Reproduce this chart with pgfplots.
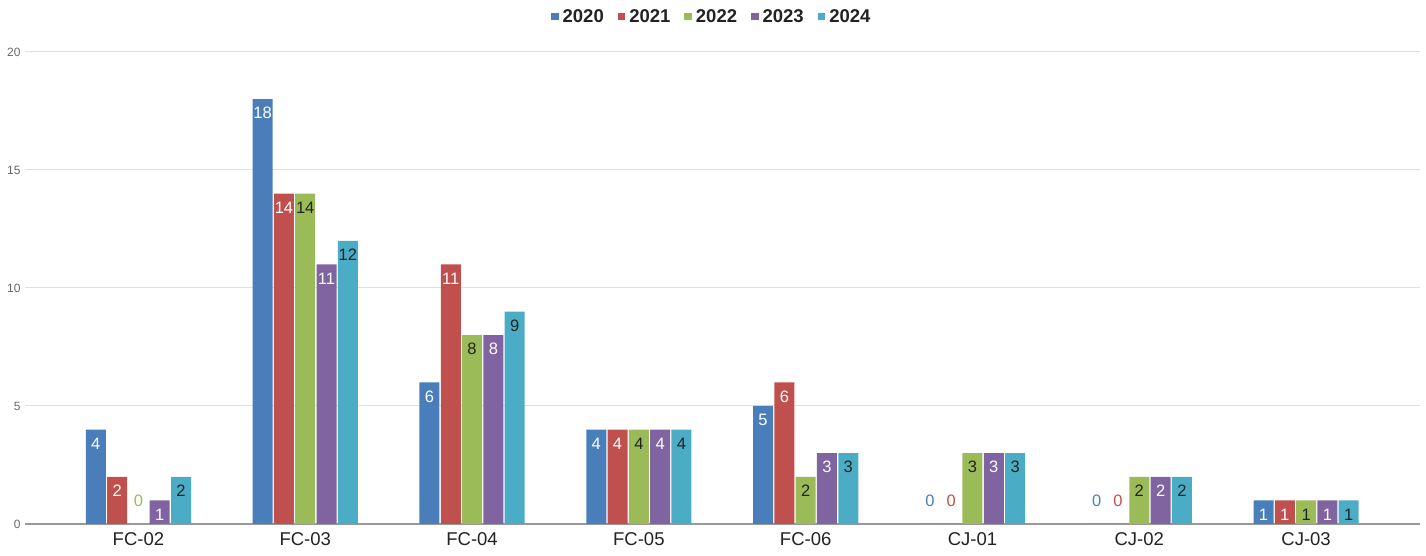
\documentclass[border=0pt]{standalone}
\usepackage{pgfplots}
\pgfplotsset{compat=1.18}
\usepackage{pgfplotstable}
\usepackage{fontspec}
\setmainfont{Liberation Sans}
\definecolor{cA}{HTML}{4A7EBB}
\definecolor{cB}{HTML}{C0504D}
\definecolor{cC}{HTML}{9BBB59}
\definecolor{cD}{HTML}{8064A2}
\definecolor{cE}{HTML}{4BACC6}
\definecolor{txt}{HTML}{222222}
\pgfplotstableread{
x cat y2020 y2021 y2022 y2023 y2024
0 FC-02 4 2 0 1 2
1 FC-03 18 14 14 11 12
2 FC-04 6 11 8 8 9
3 FC-05 4 4 4 4 4
4 FC-06 5 6 2 3 3
5 CJ-01 0 0 3 3 3
6 CJ-02 0 0 2 2 2
7 CJ-03 1 1 1 1 1
}\data
\pgfplotsset{
  zlab/.style={nodes near coords={\pgfmathfloatifflags{\pgfplotspointmeta}{0}{\smash{\raisebox{31pt}{\textcolor{#1}{0}}}}{\pgfmathprintnumber{\pgfplotspointmeta}}}},
}
\begin{document}
\begin{tikzpicture}
\useasboundingbox (-25pt,-32pt) rectangle (1401pt,524pt);
\begin{axis}[
  at={(0,0)}, anchor=south west,
  scale only axis, width=1395pt, height=472pt,
  ybar=1.3pt, bar width=20pt,
  xmin=-0.68, xmax=7.683, ymin=0, ymax=20,
  xtick=data, xticklabels={FC-02,FC-03,FC-04,FC-05,FC-06,CJ-01,CJ-02,CJ-03},
  ytick={0,5,10,15,20},
  /pgf/number format/assume math mode=true,
  ymajorgrids, grid style={draw=black!12, line width=1pt},
  major tick length=0pt,
  axis x line*=bottom, axis y line*=left,
  x axis line style={draw=black!40, line width=1.2pt, -},
  y axis line style={draw=none},
  xticklabel style={font=\fontsize{18.5}{20}\selectfont, color=txt, yshift=-5pt},
  yticklabel style={font=\fontsize{12}{14}\selectfont, color=black!60, xshift=-1pt},
  clip=false,
  legend style={at={(0.488,1)}, anchor=center, yshift=35pt, draw=none, fill=none,
    font=\fontsize{18.5}{20}\selectfont\bfseries, text=txt},
  legend columns=5,
  legend image code/.code={\path (-12pt,0pt) (9.5pt,0pt); \fill[#1] (0pt,-3.5pt) rectangle (7.5pt,4pt);},
  every node near coord/.append style={font=\fontsize{16.5}{18}\selectfont, anchor=center, yshift=-14pt},
]
\addplot[fill=cA, draw=none, zlab=cA, every node near coord/.append style={text=white}] table[x=x, y=y2020] {\data};
\addplot[fill=cB, draw=none, zlab=cB, every node near coord/.append style={text=white}] table[x=x, y=y2021] {\data};
\addplot[fill=cC, draw=none, zlab=cC, every node near coord/.append style={text=txt}] table[x=x, y=y2022] {\data};
\addplot[fill=cD, draw=none, zlab=cD, every node near coord/.append style={text=white}] table[x=x, y=y2023] {\data};
\addplot[fill=cE, draw=none, zlab=cE, every node near coord/.append style={text=txt}] table[x=x, y=y2024] {\data};
\legend{2020,2021,2022,2023,2024}
\end{axis}
\end{tikzpicture}
\end{document}
